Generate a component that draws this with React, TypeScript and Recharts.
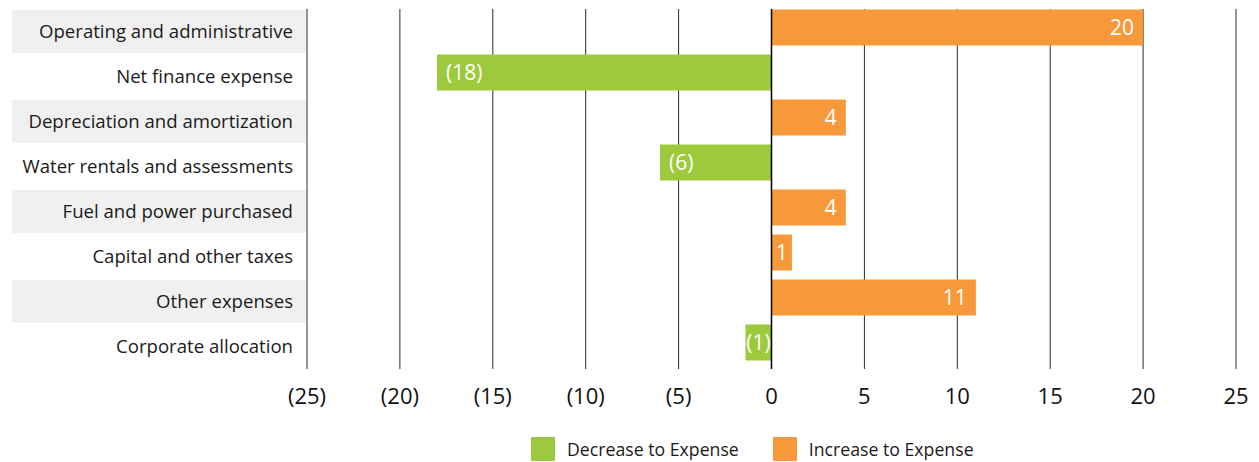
import React from "react";
import { BarChart, Bar, XAxis, YAxis, CartesianGrid, ReferenceLine, Cell, LabelList, Legend } from "recharts";

const categories = [
  "Operating and administrative",
  "Net finance expense",
  "Depreciation and amortization",
  "Water rentals and assessments",
  "Fuel and power purchased",
  "Capital and other taxes",
  "Other expenses",
  "Corporate allocation",
];
const changes = [20, -18, 4, -6, 4, 1.1, 11, -1.4];
const xTicks = [-25, -20, -15, -10, -5, 0, 5, 10, 15, 20, 25];
const legendLabels = ["Decrease to Expense", "Increase to Expense"];

const DECREASE = "#9CCA3C";
const INCREASE = "#F7993A";
const legendColors = [DECREASE, INCREASE];
const FONT = "'Open Sans', Lato, sans-serif";
const TEXT = "#1a1a1a";
const SHIFT = 4.5;

const data = categories.map((name, i) => ({ name, value: changes[i] }));

const fmt = (v: number) => (v < 0 ? `(${Math.round(-v)})` : `${Math.round(v)}`);

const CategoryTick = (props: any) => {
  const { x, y, payload, index } = props;
  return (
    <g>
      {index % 2 === 0 && (
        <rect x={x - 281} y={y - 21.5} width={294} height={43} fill="#f0f0f0" />
      )}
      <text x={x} y={y} dy="0.36em" textAnchor="end" fontFamily={FONT} fontSize={18.6} fill={TEXT}>
        {payload.value}
      </text>
    </g>
  );
};

const BarShape = (props: any) => {
  const { x, y, width, height, fill } = props;
  const left = Math.min(x, x + width);
  return <rect x={left} y={y - SHIFT} width={Math.abs(width)} height={height} fill={fill} />;
};

const BarLabel = (props: any) => {
  const { x, y, width, height, value } = props;
  if (value == null) return null;
  const text = fmt(value);
  const fontSize = 21;
  const pad = 9;
  const textW = text.length * fontSize * 0.55;
  const w = Math.abs(width);
  const left = Math.min(x, x + width);
  const cy = y + height / 2 - SHIFT;
  let tx: number;
  let anchor: "start" | "middle" | "end";
  if (w < textW + pad * 2) {
    tx = left + w / 2;
    anchor = "middle";
  } else if (value >= 0) {
    tx = left + w - pad;
    anchor = "end";
  } else {
    tx = left + pad;
    anchor = "start";
  }
  return (
    <text x={tx} y={cy} dy="0.36em" textAnchor={anchor} fontFamily={FONT} fontSize={fontSize} fill="#ffffff">
      {text}
    </text>
  );
};

const LegendContent = () => (
  <div
    style={{
      display: "flex",
      alignItems: "center",
      height: 24,
      paddingLeft: 523,
      fontFamily: FONT,
      fontSize: 17.7,
      color: TEXT,
    }}
  >
    {legendLabels.map((label, i) => (
      <div key={label} style={{ display: "flex", alignItems: "center", marginRight: 34 }}>
        <div style={{ width: 24, height: 24, background: legendColors[i], marginRight: 12 }} />
        <span>{label}</span>
      </div>
    ))}
  </div>
);

export default function App() {
  return (
    <BarChart
      width={1243}
      height={454}
      data={data}
      layout="vertical"
      margin={{ top: 1, right: 15, bottom: 1, left: 0 }}
      barSize={36}
    >
      <CartesianGrid horizontal={false} stroke="#2a2a2a" strokeWidth={1} />
      <XAxis
        type="number"
        domain={[-25, 25]}
        ticks={xTicks}
        tickFormatter={fmt}
        axisLine={false}
        tickLine={false}
        tickSize={0}
        tickMargin={19}
        height={68}
        tick={{ fontFamily: FONT, fontSize: 22, fill: "#111111" }}
        interval={0}
      />
      <YAxis
        type="category"
        dataKey="name"
        width={299}
        axisLine={false}
        tickLine={false}
        tickSize={0}
        tickMargin={14}
        tick={<CategoryTick />}
        interval={0}
      />
      <Bar dataKey="value" isAnimationActive={false} shape={<BarShape />}>
        {data.map((d) => (
          <Cell key={d.name} fill={d.value < 0 ? DECREASE : INCREASE} />
        ))}
        <LabelList dataKey="value" content={<BarLabel />} />
      </Bar>
      <ReferenceLine x={0} stroke="#000000" strokeWidth={1.5} />
      <Legend verticalAlign="bottom" content={<LegendContent />} />
    </BarChart>
  );
}
